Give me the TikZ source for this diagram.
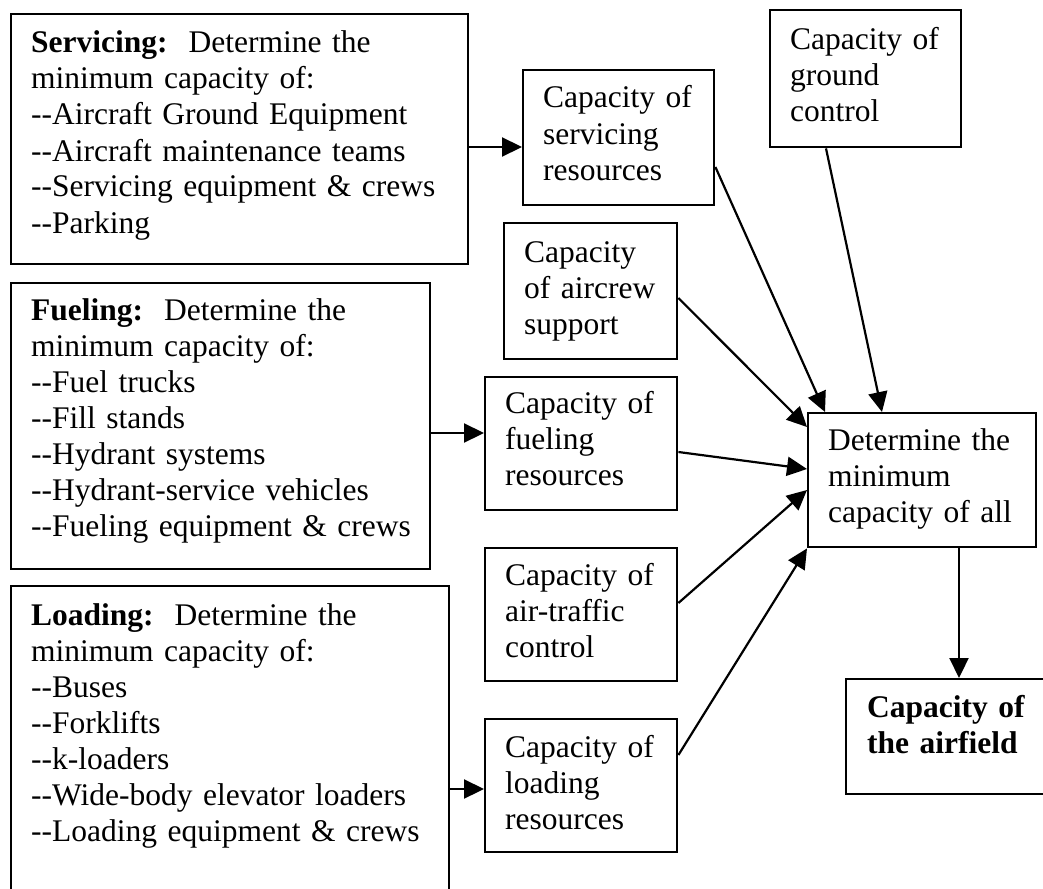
\documentclass[tikz,border=0pt]{standalone}
\usepackage{fontspec}
\setmainfont{Liberation Serif}
\usetikzlibrary{calc,arrows.meta}
\tikzset{
  box/.style={draw, line width=2.4pt, inner sep=0pt, anchor=north west},
  txt/.style={anchor=base west, inner sep=0pt, text width=#1,
    font=\fontsize{31.5}{36}\selectfont},
  txt/.default=440pt,
  arr/.style={line width=2.2pt, -{Triangle[length=20pt,width=19pt]}}
}
\newcommand{\dd}{-{}-}
\begin{document}
\begin{tikzpicture}[x=1pt,y=-1pt]
\useasboundingbox (0,0) rectangle (1043,888);
\clip (0,0) rectangle (1043,888);
% boxes
\node[box, minimum width=457pt, minimum height=250pt] (serv) at (10,13) {};
\node[box, minimum width=419pt, minimum height=286pt] (fuel) at (10,282) {};
\node[box, minimum width=438pt, minimum height=330pt] (load) at (10,585) {};
\node[box, minimum width=191pt, minimum height=135pt] (servres) at (522,69) {};
\node[box, minimum width=191pt, minimum height=137pt] (ground) at (769,9) {};
\node[box, minimum width=173pt, minimum height=136pt] (aircrew) at (503,222) {};
\node[box, minimum width=192pt, minimum height=133pt] (fuelres) at (484,376) {};
\node[box, minimum width=228pt, minimum height=134pt] (det) at (807,412) {};
\node[box, minimum width=192pt, minimum height=133pt] (atc) at (484,547) {};
\node[box, minimum width=192pt, minimum height=133pt] (loadres) at (484,718) {};
\node[box, minimum width=210pt, minimum height=115pt] (field) at (845,678) {};
% texts
\node[txt] (servT) at ($(serv.north west)+(21,40)$) {\textbf{Servicing:}\ \ Determine the\\minimum capacity of:\\\dd Aircraft Ground Equipment\\\dd Aircraft maintenance teams\\\dd Servicing equipment \& crews\\\dd Parking};
\node[txt] (fuelT) at ($(fuel.north west)+(21,38)$) {\textbf{Fueling:}\ \ Determine the\\minimum capacity of:\\\dd Fuel trucks\\\dd Fill stands\\\dd Hydrant systems\\\dd Hydrant-service vehicles\\\dd Fueling equipment \& crews};
\node[txt] (loadT) at ($(load.north west)+(21,40)$) {\textbf{Loading:}\ \ Determine the\\minimum capacity of:\\\dd Buses\\\dd Forklifts\\\dd k-loaders\\\dd Wide-body elevator loaders\\\dd Loading equipment \& crews};
\node[txt=220pt] (servresT) at ($(servres.north west)+(21,39)$) {Capacity of\\servicing\\resources};
\node[txt=220pt] (groundT) at ($(ground.north west)+(21,41)$) {Capacity of\\ground\\control};
\node[txt=220pt] (aircrewT) at ($(aircrew.north west)+(21,40)$) {Capacity\\of aircrew\\support};
\node[txt=220pt] (fuelresT) at ($(fuelres.north west)+(21,37)$) {Capacity of\\fueling\\resources};
\node[txt=220pt] (detT) at ($(det.north west)+(21,38)$) {Determine the\\minimum\\capacity of all};
\node[txt=220pt] (atcT) at ($(atc.north west)+(21,38)$) {Capacity of\\air-traffic\\control};
\node[txt=220pt] (loadresT) at ($(loadres.north west)+(21,39)$) {Capacity of\\loading\\resources};
\node[txt=220pt] (fieldT) at ($(field.north west)+(22,39)$) {\textbf{Capacity of}\\\textbf{the airfield}};
% connectors
\draw[arr] ($(serv.north east)+(0,134)$) -- ($(servres.north west)+(0,78)$);
\draw[arr] ($(fuel.north east)+(0,151)$) -- ($(fuelres.north west)+(0,57)$);
\draw[arr] ($(load.north east)+(0,204)$) -- ($(loadres.north west)+(0,71)$);
\draw[arr] ($(servres.north east)+(0,98)$) -- ($(det.north west)+(18,0)$);
\draw[arr] ($(ground.south west)+(57,0)$) -- ($(det.north west)+(75,0)$);
\draw[arr] ($(aircrew.north east)+(0,76)$) -- ($(det.north west)+(0,15)$);
\draw[arr] ($(fuelres.north east)+(0,76)$) -- ($(det.north west)+(0,57)$);
\draw[arr] ($(atc.north east)+(0,56)$) -- ($(det.north west)+(0,78)$);
\draw[arr] ($(loadres.north east)+(0,37)$) -- (det.south west);
\draw[arr] ($(det.south west)+(152,0)$) -- ($(field.north west)+(114,0)$);
\end{tikzpicture}
\end{document}
